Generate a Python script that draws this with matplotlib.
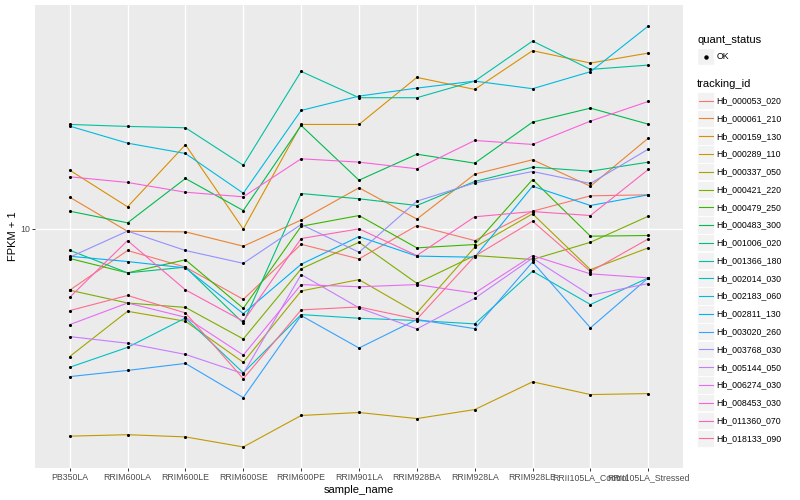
import numpy as np
import matplotlib
matplotlib.use('Agg')
import matplotlib.pyplot as plt
from matplotlib.lines import Line2D
from matplotlib.patches import Rectangle
from matplotlib.ticker import NullLocator

# samples on the x axis
samples = ['PB350LA', 'RRIM600LA', 'RRIM600LE', 'RRIM600SE', 'RRIM600PE', 'RRIM901LA',
           'RRIM928BA', 'RRIM928LA', 'RRIM928LE', 'RRII105LA_Control', 'RRII105LA_Stressed']

# FPKM + 1 per gene, one value per sample
hb_000053_020 = [5.67, 8.17, 7.01, 5.21, 8.65, 7.56, 10.28, 8.95, 11.73, 13.51, 13.64]
hb_000061_210 = [13.34, 9.75, 9.70, 8.50, 10.81, 14.55, 10.91, 16.49, 18.83, 14.76, 22.97]
hb_000159_130 = [17.11, 12.21, 21.62, 9.95, 26.06, 26.06, 40.18, 35.97, 51.38, 45.84, 50.26]
hb_000289_110 = [1.48, 1.50, 1.47, 1.34, 1.79, 1.84, 1.74, 1.89, 2.44, 2.17, 2.19]
hb_000337_050 = [3.08, 4.67, 4.26, 2.92, 5.63, 6.25, 4.60, 8.42, 11.45, 6.85, 8.37]
hb_000421_220 = [5.67, 5.04, 4.84, 3.62, 6.90, 8.81, 6.04, 7.80, 7.52, 8.81, 11.20]
hb_000479_250 = [7.59, 6.65, 7.50, 4.80, 10.21, 11.27, 8.37, 8.63, 15.70, 9.32, 9.38]
hb_000483_300 = [11.73, 10.54, 15.85, 11.80, 25.82, 15.60, 19.82, 18.25, 26.62, 30.28, 26.13]
hb_001006_020 = [8.19, 6.65, 7.01, 4.19, 13.80, 13.15, 12.36, 15.42, 17.59, 16.95, 18.42]
hb_001366_180 = [26.06, 25.59, 25.28, 17.91, 42.46, 33.33, 33.33, 38.83, 56.13, 43.25, 45.00]
hb_002014_030 = [2.79, 3.35, 4.39, 2.65, 4.53, 4.38, 4.29, 4.16, 6.75, 4.97, 6.35]
hb_002183_060 = [25.66, 21.94, 19.95, 13.84, 29.65, 33.82, 36.41, 38.83, 36.21, 42.34, 64.45]
hb_002811_130 = [7.75, 7.38, 6.96, 4.57, 7.20, 9.29, 7.76, 7.68, 14.76, 12.36, 13.64]
hb_003020_260 = [2.56, 2.71, 2.89, 2.11, 4.49, 3.33, 4.33, 3.98, 7.35, 4.01, 6.35]
hb_003768_030 = [7.68, 9.77, 8.17, 7.26, 10.38, 8.04, 12.86, 15.21, 16.90, 15.14, 20.76]
hb_005144_050 = [3.70, 3.48, 3.14, 2.63, 6.55, 4.82, 3.97, 5.26, 7.62, 5.41, 6.03]
hb_006274_030 = [4.13, 5.04, 4.42, 3.12, 5.97, 5.85, 5.97, 5.52, 7.80, 6.59, 6.35]
hb_008453_030 = [16.10, 15.28, 13.97, 13.39, 19.00, 18.42, 17.33, 22.49, 21.68, 26.87, 32.21]
hb_011360_070 = [5.31, 8.95, 5.69, 4.26, 9.12, 9.97, 7.80, 11.14, 11.69, 11.27, 17.22]
hb_018133_090 = [4.70, 5.40, 4.60, 2.51, 4.73, 4.86, 4.34, 7.75, 10.70, 6.73, 9.09]

tracking_ids = ['Hb_000053_020', 'Hb_000061_210', 'Hb_000159_130', 'Hb_000289_110',
                'Hb_000337_050', 'Hb_000421_220', 'Hb_000479_250', 'Hb_000483_300',
                'Hb_001006_020', 'Hb_001366_180', 'Hb_002014_030', 'Hb_002183_060',
                'Hb_002811_130', 'Hb_003020_260', 'Hb_003768_030', 'Hb_005144_050',
                'Hb_006274_030', 'Hb_008453_030', 'Hb_011360_070', 'Hb_018133_090']
series = [hb_000053_020, hb_000061_210, hb_000159_130, hb_000289_110, hb_000337_050,
          hb_000421_220, hb_000479_250, hb_000483_300, hb_001006_020, hb_001366_180,
          hb_002014_030, hb_002183_060, hb_002811_130, hb_003020_260, hb_003768_030,
          hb_005144_050, hb_006274_030, hb_008453_030, hb_011360_070, hb_018133_090]

# ggplot default hue palette for 20 levels
colors = ['#F8766D', '#EA8331', '#D89000', '#C09B00', '#A3A500', '#7CAE00', '#39B600',
          '#00BB4E', '#00BF7D', '#00C1A3', '#00BFC4', '#00BAE0', '#00B0F6', '#35A2FF',
          '#9590FF', '#C77CFF', '#E76BF3', '#FA62DB', '#FF62BC', '#FF6C91']

plt.rcParams['font.family'] = ['Liberation Sans', 'DejaVu Sans']
W, H = 800, 500
fig = plt.figure(figsize=(8, 5), dpi=100)
ax = fig.add_axes([35 / W, 1 - 468 / H, (683 - 35) / W, (468 - 5) / H])
ax.set_facecolor('#EBEBEB')
for s in ax.spines.values():
    s.set_visible(False)

xs = np.arange(len(samples))
for v, c in zip(series, colors):
    ax.plot(xs, v, color=c, lw=0.8, zorder=2)
for v in series:
    ax.scatter(xs, v, s=5, color='black', zorder=3, linewidths=0)

# log y with 5% expansion like ggplot
ax.set_yscale('log')
lo = np.log10(min(min(v) for v in series))
hi = np.log10(max(max(v) for v in series))
pad = 0.05 * (hi - lo)
ax.set_ylim(10 ** (lo - pad), 10 ** (hi + pad))
ax.set_xlim(-0.6, len(samples) - 0.4)
ax.set_yticks([10])
ax.set_yticklabels(['10'])
ax.yaxis.set_minor_locator(NullLocator())
ax.set_xticks(xs)
ax.set_xticklabels(samples)
ax.grid(True, color='white', lw=1.0, zorder=0)
ax.set_axisbelow(True)
ax.tick_params(length=2.2, width=0.7, color='#333333', labelsize=6.3,
               labelcolor='#4D4D4D', pad=1.5)
ax.set_xlabel('sample_name', fontsize=8, labelpad=2)
ax.set_ylabel('FPKM + 1', fontsize=8, labelpad=1.5)


def fx(x):
    return x / W


def fy(y):
    return 1 - y / H


# legends drawn by hand, ggplot style
fig.text(fx(697), fy(40), 'quant_status', fontsize=8, va='center', ha='left')
fig.patches.append(Rectangle((fx(697), fy(65.3)), 17.3 / W, 17.3 / H,
                             transform=fig.transFigure, facecolor='#F2F2F2', edgecolor='white'))
fig.lines.append(Line2D([fx(705.6)], [fy(56.7)], marker='o', ms=2.2, color='black',
                        transform=fig.transFigure))
fig.text(fx(716.7), fy(56.7), 'OK', fontsize=6.3, va='center', ha='left')

fig.text(fx(697), fy(84), 'tracking_id', fontsize=8, va='center', ha='left')
for i, (name, c) in enumerate(zip(tracking_ids, colors)):
    yc = 100.7 + 17.77 * i
    fig.patches.append(Rectangle((fx(697), fy(yc + 8.6)), 17.3 / W, 17.3 / H,
                                 transform=fig.transFigure, facecolor='#F2F2F2',
                                 edgecolor='white', lw=0.6))
    fig.lines.append(Line2D([fx(698.7), fx(712.6)], [fy(yc), fy(yc)], color=c, lw=0.8,
                            transform=fig.transFigure))
    fig.text(fx(716.7), fy(yc), name, fontsize=6.3, va='center', ha='left')

fig.savefig('out.png', dpi=100)
